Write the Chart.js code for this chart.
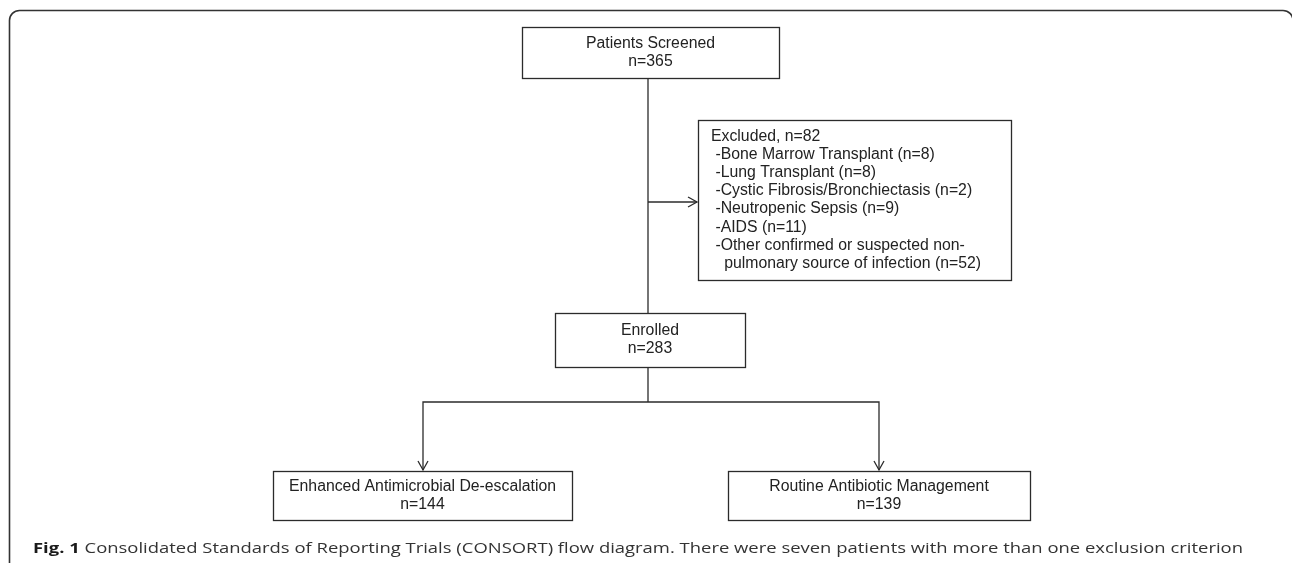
<!DOCTYPE html>
<html>
<head>
<meta charset="utf-8">
<script src="https://cdn.jsdelivr.net/npm/chart.js@4"></script>
<style>
  html, body { margin: 0; padding: 0; background: #fff; }
  canvas { display: block; }
</style>
</head>
<body>
<canvas id="flowChart" width="1292" height="563"></canvas>
<script>
// Flow data
const stageLabels = ["Patients Screened", "Enrolled", "Enhanced Antimicrobial De-escalation", "Routine Antibiotic Management"];
const stageCounts = [365, 283, 144, 139];
const excludedTotal = 82;
const exclusionReasons = [
  "Bone Marrow Transplant",
  "Lung Transplant",
  "Cystic Fibrosis/Bronchiectasis",
  "Neutropenic Sepsis",
  "AIDS",
  "Other confirmed or suspected non-|pulmonary source of infection"
];
const exclusionCounts = [8, 8, 2, 9, 11, 52];
const captionBold = "Fig. 1";
const captionText = " Consolidated Standards of Reporting Trials (CONSORT) flow diagram. There were seven patients with more than one exclusion criterion";

// Layout (in axis units, the axes span the canvas)
const boxes = {
  screened: { x0: 522, y0: 27, x1: 779, y1: 78 },
  excluded: { x0: 698, y0: 120, x1: 1011, y1: 280 },
  enrolled: { x0: 555, y0: 313, x1: 745, y1: 367 },
  enhanced: { x0: 273, y0: 471, x1: 572, y1: 520 },
  routine: { x0: 728, y0: 471, x1: 1030, y1: 520 }
};
const spineX = 648;
const branchY = 202;
const splitY = 402;
const armX = [423, 879];

const lineColor = "#2b2b2b";
const textColor = "#222";
const boxFont = "15.8px 'Liberation Sans', Arial, sans-serif";

// Connector lines as datasets
const connector = (pts) => ({
  data: pts.map(p => ({ x: p[0], y: p[1] })),
  showLine: true,
  borderColor: lineColor,
  borderWidth: 1.3,
  pointRadius: 0,
  fill: false,
  tension: 0
});
const datasets = [
  connector([[spineX, boxes.screened.y1], [spineX, boxes.enrolled.y0]]),
  connector([[spineX, branchY], [boxes.excluded.x0 - 1, branchY]]),
  connector([[spineX, boxes.enrolled.y1], [spineX, splitY]]),
  connector([[armX[0], boxes.enhanced.y0 - 1], [armX[0], splitY], [armX[1], splitY], [armX[1], boxes.routine.y0 - 1]])
];
// arrow tips [x, y, direction]
const arrows = [
  [boxes.excluded.x0 - 1, branchY, "right"],
  [armX[0], boxes.enhanced.y0 - 1, "down"],
  [armX[1], boxes.routine.y0 - 1, "down"]
];

// Plugin that draws frame, boxes, text, arrow heads and caption
const flowPlugin = {
  id: "flowPlugin",
  beforeDatasetsDraw(chart) {
    const ctx = chart.ctx;
    const xs = chart.scales.x, ys = chart.scales.y;
    const px = v => xs.getPixelForValue(v);
    const py = v => ys.getPixelForValue(v);
    ctx.save();
    // outer frame
    ctx.strokeStyle = "#333";
    ctx.lineWidth = 1.6;
    ctx.beginPath();
    ctx.roundRect(px(9.5), py(10.5), px(1293) - px(9.5), py(700) - py(10.5), 10);
    ctx.stroke();
    ctx.restore();
  },
  afterDatasetsDraw(chart) {
    const ctx = chart.ctx;
    const xs = chart.scales.x, ys = chart.scales.y;
    const px = v => xs.getPixelForValue(v);
    const py = v => ys.getPixelForValue(v);
    ctx.save();
    ctx.strokeStyle = lineColor;
    ctx.lineWidth = 1.3;
    const drawBox = (b) => {
      ctx.strokeRect(Math.round(px(b.x0)) + 0.5, Math.round(py(b.y0)) + 0.5,
        Math.round(px(b.x1) - px(b.x0)), Math.round(py(b.y1) - py(b.y0)));
    };
    Object.values(boxes).forEach(drawBox);

    ctx.fillStyle = textColor;
    ctx.font = boxFont;
    ctx.textBaseline = "middle";
    ctx.textAlign = "center";
    const lineH = 18;
    const stageKeys = ["screened", "enrolled", "enhanced", "routine"];
    stageKeys.forEach((k, i) => {
      const b = boxes[k];
      const cx = (px(b.x0) + px(b.x1)) / 2;
      const cy = (py(b.y0) + py(b.y1)) / 2;
      ctx.fillText(stageLabels[i], cx, cy - lineH / 2);
      ctx.fillText("n=" + stageCounts[i], cx, cy + lineH / 2);
    });

    // excluded box
    const lines = ["Excluded, n=" + excludedTotal];
    exclusionReasons.forEach((r, i) => {
      const parts = r.split("|");
      parts.forEach((p, j) => {
        let s = j === 0 ? " -" + p : "   " + p;
        if (j === parts.length - 1) s += " (n=" + exclusionCounts[i] + ")";
        lines.push(s);
      });
    });
    ctx.textAlign = "left";
    const eb = boxes.excluded;
    const ecy = (py(eb.y0) + py(eb.y1)) / 2;
    const exLineH = 18.1;
    const top = ecy - exLineH * (lines.length - 1) / 2;
    lines.forEach((l, i) => ctx.fillText(l, px(eb.x0) + 13, top + i * exLineH));

    // arrow heads (open chevrons)
    ctx.lineWidth = 1.3;
    arrows.forEach(([ax, ay, dir]) => {
      const x = px(ax), y = py(ay);
      ctx.beginPath();
      if (dir === "right") {
        ctx.moveTo(x - 9, y - 5); ctx.lineTo(x, y); ctx.lineTo(x - 9, y + 5);
      } else {
        ctx.moveTo(x - 5, y - 9); ctx.lineTo(x, y); ctx.lineTo(x + 5, y - 9);
      }
      ctx.stroke();
    });

    // caption
    const capX = px(33), capY = py(549), capW = 1210;
    ctx.textBaseline = "middle";
    ctx.font = "bold 14.5px 'Open Sans', sans-serif";
    const wb = ctx.measureText(captionBold).width;
    ctx.font = "14.5px 'Open Sans', sans-serif";
    const wr = ctx.measureText(captionText).width;
    const sx = capW / (wb + wr);
    ctx.translate(capX, capY);
    ctx.scale(sx, 1);
    ctx.fillStyle = "#1a1a1a";
    ctx.font = "bold 14.5px 'Open Sans', sans-serif";
    ctx.fillText(captionBold, 0, 0);
    ctx.fillStyle = "#333";
    ctx.font = "14.5px 'Open Sans', sans-serif";
    ctx.fillText(captionText, wb, 0);
    ctx.restore();
  }
};

new Chart(document.getElementById("flowChart"), {
  type: "scatter",
  data: { datasets: datasets },
  options: {
    responsive: false,
    animation: false,
    layout: { padding: 0 },
    plugins: { legend: { display: false }, tooltip: { enabled: false } },
    scales: {
      x: { type: "linear", display: false, min: 0, max: 1292 },
      y: { type: "linear", display: false, min: 0, max: 563, reverse: true }
    }
  },
  plugins: [flowPlugin]
});
</script>
</body>
</html>
